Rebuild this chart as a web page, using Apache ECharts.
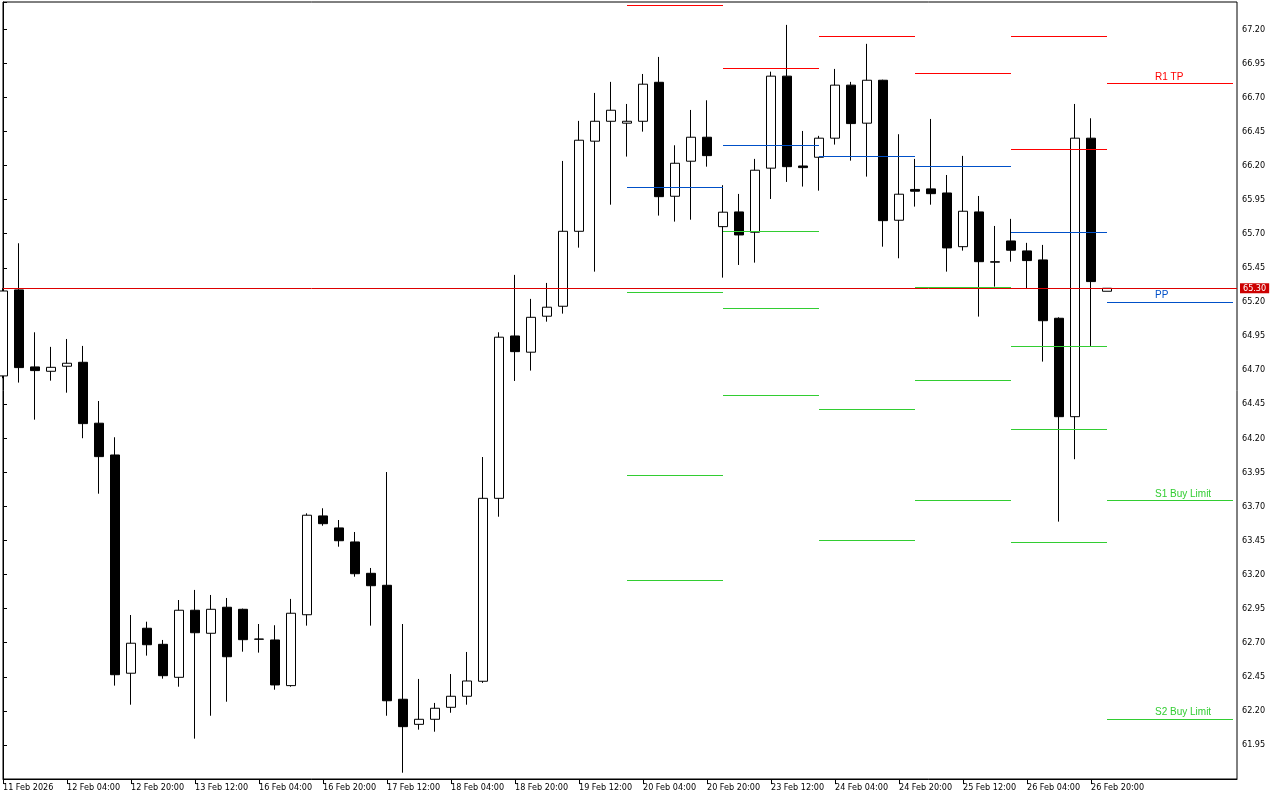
<!DOCTYPE html>
<html>
<head>
<meta charset="utf-8">
<script src="https://cdn.jsdelivr.net/npm/echarts@6/dist/echarts.min.js"></script>
<style>
html,body{margin:0;padding:0;background:#fff;}
#c{width:1280px;height:800px;}
</style>
</head>
<body>
<div id="c"></div>
<script>
// ---- time axis ----
const tickIndex = [0,4,8,12,16,20,24,28,32,36,40,44,48,52,56,60,64,68];
const tickLabels = ['11 Feb 2026','12 Feb 04:00','12 Feb 20:00','13 Feb 12:00','16 Feb 04:00','16 Feb 20:00',
  '17 Feb 12:00','18 Feb 04:00','18 Feb 20:00','19 Feb 12:00','20 Feb 04:00','20 Feb 20:00',
  '23 Feb 12:00','24 Feb 04:00','24 Feb 20:00','25 Feb 12:00','26 Feb 04:00','26 Feb 20:00'];

// ---- H4 candles (index 0..69) ----
const opens = [64.657,65.288,64.723,64.691,64.728,64.757,64.310,64.077,62.476,62.806,
  62.688,62.446,62.938,62.769,62.960,62.945,62.725,62.720,62.385,62.905,
  63.630,63.542,63.439,63.209,63.121,62.285,62.101,62.138,62.226,62.307,
  62.417,63.759,64.950,64.831,65.095,65.168,65.718,66.379,66.525,66.511,
  66.525,66.811,65.975,66.232,66.408,65.752,65.860,65.711,66.181,66.856,
  66.197,66.261,66.401,66.790,66.511,66.826,65.799,66.025,66.029,65.999,
  65.605,65.860,65.491,65.647,65.574,65.508,65.080,64.358,66.401,65.278];
const closes = [65.280,64.718,64.696,64.720,64.750,64.307,64.065,62.465,62.696,62.685,
  62.458,62.938,62.773,62.945,62.597,62.722,62.727,62.390,62.916,63.635,
  63.573,63.448,63.206,63.118,62.274,62.084,62.138,62.219,62.307,62.419,
  63.759,64.941,64.835,65.087,65.161,65.718,66.386,66.525,66.606,66.525,
  66.797,65.972,66.217,66.408,66.273,65.858,65.691,66.166,66.856,66.192,
  66.185,66.401,66.790,66.508,66.826,65.796,65.990,66.012,65.994,65.596,
  65.865,65.495,65.495,65.579,65.503,65.062,64.358,66.401,65.349,65.300];
const lows = [64.640,64.608,64.336,64.622,64.534,64.200,63.793,62.385,62.245,62.605,
  62.436,62.377,61.996,62.164,62.267,62.634,62.627,62.355,62.377,62.825,
  63.558,63.404,63.184,62.825,62.164,61.746,62.062,62.047,62.186,62.245,
  62.405,63.624,64.620,64.696,65.055,65.114,65.598,65.422,65.913,66.266,
  66.449,65.833,65.789,65.803,66.192,65.378,65.471,65.488,65.955,66.080,
  66.046,66.016,66.354,66.236,66.119,65.605,65.520,65.899,65.913,65.422,
  65.576,65.092,65.312,65.495,65.300,64.762,63.588,64.046,64.877,65.278];
const highs = [65.300,65.630,64.977,64.870,64.928,64.877,64.473,64.207,62.903,62.854,
  62.720,63.013,63.087,63.050,63.028,62.950,62.837,62.828,63.021,63.649,
  63.686,63.600,63.512,63.248,63.952,62.837,62.434,62.258,62.470,62.632,
  64.062,64.977,65.398,65.222,65.339,66.234,66.528,66.733,66.814,66.652,
  66.872,66.997,66.349,66.608,66.679,66.056,65.992,66.249,66.889,67.232,
  66.454,66.418,66.909,66.814,67.093,66.830,66.430,66.249,66.542,66.131,
  66.271,65.977,65.757,65.809,65.633,65.618,65.087,66.652,66.547,65.300];

const currentPrice = 65.30;

// ---- daily pivot levels (segments from day start to next day start) ----
const dayStart = [39, 45, 51, 57, 63, 69];
const dayEnd   = [45, 51, 57, 63, 69, 76.9];
const levelR2 = [null, null, null, null, 67.147, null];
const levelR1 = [67.374, 66.912, 67.147, 66.876, 66.318, 66.802];
const levelPP = [66.039, 66.347, 66.267, 66.193, 65.709, 65.196];
const levelS1 = [65.269, 65.716, 65.298, 65.306, 64.873, 63.743];
const levelS2 = [63.926, 65.152, 64.411, 64.623, 64.264, 62.137];
const levelS3 = [63.156, 64.513, 63.450, 63.743, 63.435, null];

// ---- order labels on the current day ----
const orderNames  = ['R1 TP', 'PP', 'S1 Buy Limit', 'S2 Buy Limit'];
const orderLevels = [levelR1[5], levelPP[5], levelS1[5], levelS2[5]];
const orderKinds  = [0, 1, 2, 2];
const orderLabelAt = 72;

const kindColors = ['#ff0000', '#0050c8', '#32cd32'];
const AXIS_FONT = '"DejaVu Sans Condensed", "Liberation Sans", sans-serif';
const LABEL_FONT = '"Liberation Sans", Arial, sans-serif';

const candleData = opens.map((o, i) => [i, o, closes[i], lows[i], highs[i]]);

const pivotData = [];
[[levelR2,0],[levelR1,0],[levelPP,1],[levelS1,2],[levelS2,2],[levelS3,2]].forEach(([arr, k]) => {
  arr.forEach((v, d) => { if (v != null) pivotData.push([dayStart[d], dayEnd[d], v, k]); });
});
const orderData = orderLevels.map(v => [orderLabelAt, v]);

const chart = echarts.init(document.getElementById('c'), null, {renderer: 'canvas'});
chart.setOption({
  animation: false,
  backgroundColor: '#ffffff',
  grid: {left: 3, right: 43, top: 2, bottom: 21, show: true, borderColor: '#000', borderWidth: 1, backgroundColor: '#fff'},
  xAxis: {
    type: 'value', min: 0, max: 77.125,
    axisLine: {show: true, lineStyle: {color: '#000', width: 1}},
    axisTick: {show: true, length: 5, lineStyle: {color: '#000'}, customValues: tickIndex},
    axisLabel: {
      show: true, color: '#000', fontFamily: AXIS_FONT, fontSize: 9, align: 'left', margin: 4,
      customValues: tickIndex,
      formatter: v => { const k = tickIndex.indexOf(Math.round(v)); return (k >= 0 && Math.abs(v - Math.round(v)) < 1e-6) ? tickLabels[k] : ''; }
    },
    splitLine: {show: false}
  },
  yAxis: {
    type: 'value', position: 'right', min: 61.70, max: 67.40, interval: 0.25, scale: true,
    axisLine: {show: true, lineStyle: {color: '#000', width: 1}},
    axisTick: {show: true, length: 4, lineStyle: {color: '#000'}},
    axisLabel: {
      color: '#000', fontFamily: AXIS_FONT, fontSize: 9, margin: 5,
      formatter: v => (Math.abs(v - 61.70) < 1e-6 || Math.abs(v - 67.40) < 1e-6) ? '' : v.toFixed(2)
    },
    splitLine: {show: false}
  },
  series: [
    {
      type: 'candlestick',
      data: candleData,
      encode: {x: 0, y: [1, 2, 3, 4]},
      barWidth: 10,
      clip: true,
      z: 2,
      itemStyle: {color: '#ffffff', color0: '#000000', borderColor: '#000000', borderColor0: '#000000', borderWidth: 1},
      markLine: {
        silent: true, symbol: ['none', 'none'], animation: false,
        lineStyle: {color: '#dd0000', width: 1, type: 'solid'},
        label: {show: true, position: 'end', formatter: () => currentPrice.toFixed(2), color: '#ffffff',
          backgroundColor: '#cc0000', padding: [1, 3, 0, 3], fontFamily: AXIS_FONT, fontSize: 9, distance: 3},
        data: [{yAxis: currentPrice}]
      }
    },
    {
      type: 'custom',
      clip: true,
      z: 4,
      data: pivotData,
      encode: {x: [0, 1], y: 2},
      renderItem: (params, api) => {
        const p1 = api.coord([api.value(0), api.value(2)]);
        const p2 = api.coord([api.value(1), api.value(2)]);
        const y = Math.round(p1[1] - 0.5) + 0.5;
        return {type: 'line', shape: {x1: Math.round(p1[0]), y1: y, x2: Math.round(p2[0]), y2: y},
          style: {stroke: kindColors[api.value(3)], lineWidth: 1}};
      }
    },
    {
      type: 'custom',
      clip: false,
      z: 5,
      data: orderData,
      encode: {x: 0, y: 1},
      renderItem: (params, api) => {
        const p = api.coord([api.value(0), api.value(1)]);
        const i = params.dataIndex;
        return {type: 'text', x: Math.round(p[0]), y: Math.round(p[1]) - 7,
          style: {text: orderNames[i], fill: kindColors[orderKinds[i]], font: '10px ' + LABEL_FONT,
            align: 'left', verticalAlign: 'middle', textAlign: 'left', textVerticalAlign: 'middle'}};
      }
    }
  ]
});
</script>
</body>
</html>
